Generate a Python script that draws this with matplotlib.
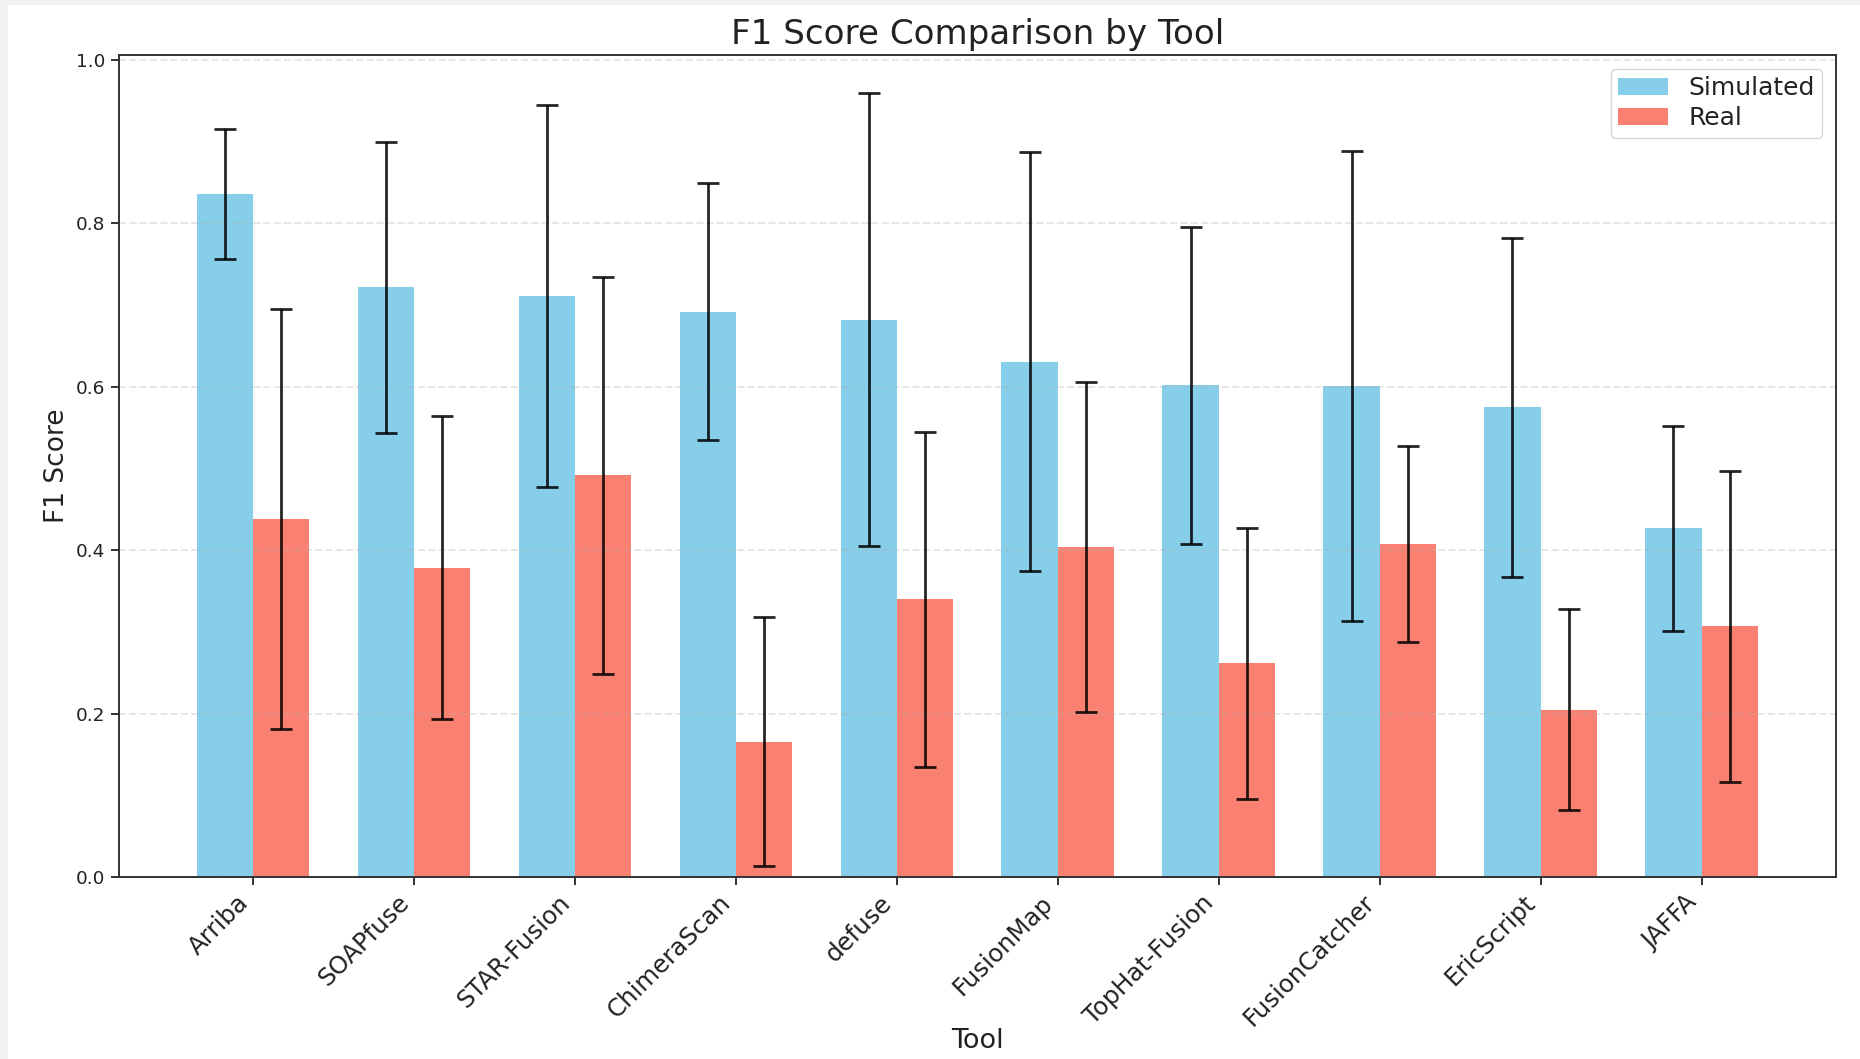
import matplotlib
import numpy as np

matplotlib.use("Agg")
import matplotlib.pyplot as plt
from matplotlib.patches import Rectangle

tools = ["Arriba", "SOAPfuse", "STAR-Fusion", "ChimeraScan", "defuse",
         "FusionMap", "TopHat-Fusion", "FusionCatcher", "EricScript", "JAFFA"]
sim_f1 = [0.836, 0.722, 0.711, 0.692, 0.682, 0.631, 0.602, 0.601, 0.575, 0.427]
sim_err = [0.080, 0.178, 0.234, 0.157, 0.277, 0.256, 0.194, 0.287, 0.207, 0.125]
real_f1 = [0.438, 0.379, 0.492, 0.166, 0.340, 0.404, 0.262, 0.408, 0.205, 0.307]
real_err = [0.257, 0.185, 0.243, 0.152, 0.205, 0.202, 0.166, 0.120, 0.123, 0.190]

fig = plt.figure(figsize=(18.6, 10.59), dpi=100, facecolor="#f2f2f2")
# white canvas inside the light grey frame
fig.patches.append(Rectangle((0.0043, 0), 1, 0.9953, transform=fig.transFigure,
                             facecolor="white", edgecolor="none", zorder=-10))

ax = fig.add_axes([0.0638, 0.1714, 0.9871 - 0.0638, 0.9481 - 0.1714])
ax.set_zorder(5)

x = np.arange(len(tools))
width = 0.35
err_kw = dict(ecolor="black", elinewidth=2.0, capthick=2.0, alpha=0.85)

ax.bar(x - width / 2, sim_f1, width, yerr=sim_err, capsize=8,
       color="skyblue", label="Simulated", error_kw=err_kw)
ax.bar(x + width / 2, real_f1, width, yerr=real_err, capsize=8,
       color="salmon", label="Real", error_kw=err_kw)

text_col = "#222222"
ax.set_xlabel("Tool", fontsize=19.5, labelpad=-2, color=text_col)
ax.set_ylabel("F1 Score", fontsize=19, color=text_col)
ax.set_title("F1 Score Comparison by Tool", fontsize=24.6, pad=8, color=text_col)
ax.set_xticks(x)
ax.set_xticklabels(tools, rotation=45, ha="right", fontsize=17.6)
ax.tick_params(axis="y", labelsize=13.3)
ax.tick_params(width=1.4, length=6, color="#333333", labelcolor=text_col)
ax.set_ylim(0, 1.006)
ax.grid(True, axis="y", linestyle="--", alpha=0.3, linewidth=1.4)
for s in ax.spines.values():
    s.set_linewidth(1.4)
    s.set_color("#333333")
leg = ax.legend(fontsize=18, loc="upper right", labelspacing=0.25,
                borderpad=0.3, borderaxespad=0.55)
for t in leg.get_texts():
    t.set_color(text_col)

fig.savefig("out.png", dpi=100, facecolor=fig.get_facecolor())
